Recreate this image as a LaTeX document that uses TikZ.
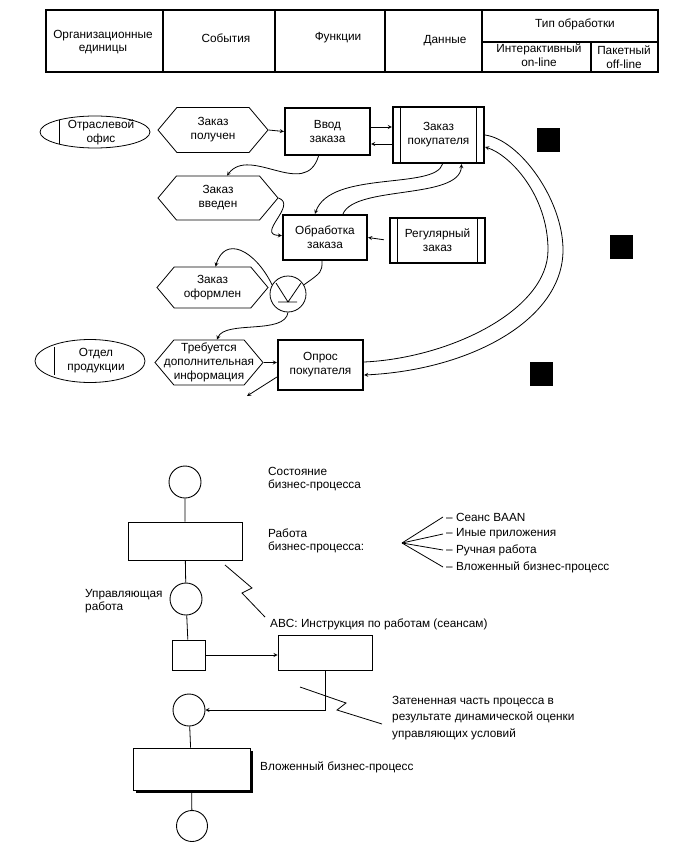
\documentclass[tikz,border=0pt]{standalone}
\usepackage{fontspec}
\setmainfont{Liberation Sans}[Ligatures={TeX,NoCommon}]
\usepackage{tikz}
\usetikzlibrary{arrows,shapes,shapes.symbols,positioning,shadows}

\begin{document}
\begin{tikzpicture}[x=1pt,y=-1pt,>=stealth,font=\fontsize{11.8}{14}\selectfont]
% STYLES
\tikzset{
    tcell/.style={align=center, font=\fontsize{11.8}{13.5}\selectfont},
    lowtxt/.style={execute at begin node={\rule{0pt}{16pt}}},
    orgell/.style={ellipse, draw, line width=0.8pt, inner sep=0pt,
    minimum width=110pt, minimum height=32pt},
    orgtxt/.style={align=center, xshift=6pt},
    hexbase/.style={signal, signal to=east and west, signal pointer angle=100, draw,
    line width=0.8pt, align=center, inner sep=0pt, minimum width=110pt, minimum height=45pt},
    hexa/.style={hexbase, lowtxt},
    funcbox/.style={rectangle, draw, line width=2.2pt, align=center, inner sep=0pt,
    minimum width=85pt, minimum height=47pt, lowtxt},
    databox/.style={funcbox, minimum width=91pt, minimum height=56pt},
    xorc/.style={circle, draw, line width=0.8pt, minimum size=36pt, inner sep=0pt},
    stat/.style={circle, draw, line width=0.9pt, minimum size=32pt, inner sep=0pt},
    work/.style={rectangle, draw, line width=0.9pt, minimum width=114pt, minimum height=38pt},
    lbl/.style={align=left, inner sep=0pt, anchor=west, font=\fontsize{11.8}{13}\selectfont},
    link/.style={line width=0.8pt}
}
\useasboundingbox (0,0) rectangle (679,853);

% table head
\draw[line width=1.8pt] (46,10) rectangle (658,72);
\foreach \x in {163,275,385,482}
  \draw[line width=1.8pt] (\x,10) -- (\x,72);
\draw[line width=1.8pt] (482,42) -- (658,42) (591,42) -- (591,72);
\node[tcell] (torg) at (103,42) {Организационные\\единицы};
\node[tcell] (tev) at (226,38) {События};
\node[tcell] (tfun) at (338,38) {Функции};
\node[tcell] (tdat) at (445,41) {Данные};
\node[tcell] (ttyp) at (575,24) {Тип обработки};
\node[tcell] (tint) at (539,55) {Интерактивный\\on-line};
\node[tcell] (tbat) at (624,57) {Пакетный\\of\kern0ptf-line};

% event chain
\node[orgell, label={[orgtxt]center:Отраслевой\\офис}] (ofis) at (95,132) {};
\node[hexa] (zpol) at (213,130) {Заказ\\получен};
\node[funcbox] (vvod) at (327.5,131.5) {Ввод\\заказа};
\node[databox] (zpok) at (438.5,135) {Заказ\\покупателя};
\node[hexa, minimum width=120pt, minimum height=44pt] (zvved) at (218,198) {Заказ\\введен};
\node[funcbox, minimum width=84pt, minimum height=45pt] (obr) at (325,237.5) {Обработка\\заказа};
\node[databox, minimum width=95pt, minimum height=45pt] (regz) at (437.5,240.5) {Регулярный\\заказ};
\node[xorc] (xor) at (288,294) {};
\node[hexa, minimum width=111pt, minimum height=41pt] (zofo) at (212.5,287.5) {Заказ\\оформлен};
\node[hexbase, minimum width=108pt, inner xsep=-16pt] (treb) at (209,362.5) {Требуется\\дополнительная\\информация};
\node[funcbox, minimum height=50pt] (opros) at (320.5,365) {Опрос\\покупателя};
\node[orgell, minimum height=43pt, label={[orgtxt]center:Отдел\\продукции}] (otdel) at (90,361) {};
\coordinate (out) at (247,396);
\coordinate (arcout) at (563,250);
\coordinate (arcin) at (548,250);

% marks inside the shapes
\foreach \n/\h in {ofis/12,otdel/14}
  \draw[link] ([xshift=20pt,yshift=\h pt]\n.west) -- ([xshift=20pt,yshift=-\h pt]\n.west);
\foreach \n in {zpok,regz}
  \draw[line width=1.4pt] ([xshift=8.5pt]\n.north west) -- ([xshift=8.5pt]\n.south west)
    ([xshift=-8.5pt]\n.north east) -- ([xshift=-8.5pt]\n.south east);
\draw[link] ([shift={(-12pt,11pt)}]xor.center) -- ([yshift=-8pt]xor.center)
  -- ([shift={(13pt,11pt)}]xor.center)
  ([shift={(-10pt,-8pt)}]xor.center) -- ([shift={(9pt,-8pt)}]xor.center);
\foreach \x/\y in {537/128,610/235,530/362}
  \fill (\x,\y) rectangle ++(23,24);

% Draw the links between
\path[->,link]
   (zpol.east) edge (vvod.west)
   (vvod.east |- 0,127) edge (zpok.west |- 0,127)
   (zpok.west |- 0,144) edge (vvod.east |- 0,144)
   (regz.west) edge[shorten <=5pt] (obr.east)
   (treb.east) edge (treb.east -| opros.west)
   ([yshift=-12pt]opros.west) edge (out);
\draw[->,link] ([xshift=-9pt]vvod.south) .. controls (305,200) and (250,145) .. ([xshift=9pt]zvved.north);
\draw[->,link] (zvved.east) .. controls (298,205) and (255,235) .. ([yshift=2pt]obr.west);
\draw[->,link] ([xshift=4pt]zpok.south) .. controls (435,190) and (330,170) .. ([xshift=-10pt]obr.north);
\draw[->,link] ([xshift=18pt]obr.north) .. controls (355,185) and (460,200) .. ([xshift=23pt]zpok.south);
\draw[link] ([xshift=-3pt]obr.south) .. controls (322,272) .. (xor.30);
\draw[->,link] (xor.150) .. controls (255,250) and (225,235) .. ([xshift=3pt]zofo.north);
\draw[->,link] (xor.south) .. controls (285,335) and (225,320) .. ([xshift=8pt]treb.north);
\draw[->,link] (zpok.east) .. controls (520,140) and (563,200) .. (arcout)
   .. controls (563,320) and (470,370) .. ([yshift=-10pt]opros.east);
\draw[->,link] ([yshift=3pt]opros.east) .. controls (450,358) and (548,310) .. (arcin)
   .. controls (548,195) and (510,155) .. ([yshift=-12pt]zpok.east);

% process model
\node[stat] (s1) at (185,482) {};
\node[work] (w1) at (185,541) {};
\node[stat] (s2) at (186,599) {};
\node[draw, line width=0.9pt, minimum width=33pt, minimum height=30pt] (ctl) at (188.5,655) {};
\node[work, minimum width=94pt, minimum height=35pt] (w2) at (325,652.5) {};
\node[stat] (s3) at (189,710) {};
\node[work, minimum width=117pt, minimum height=42pt,
  drop shadow={shadow xshift=2.5pt,shadow yshift=-2.5pt,fill=black,opacity=1}, fill=white] (w3) at (191.5,769) {};
\node[stat, minimum size=31pt] (s4) at (192,826) {};

\node[lbl] (tstat) at (268,479) {Состояние\\бизнес-процесса};
\node[lbl] (twork) at (268,541) {Работа\\бизнес-процесса:};
\node[lbl] (tctl) at (85,601) {Управляющая\\работа};
\node[lbl] (tabc) at (270,624) {ABC: Инструкция по работам (сеансам)};
\node[lbl, font=\fontsize{11.8}{16.5}\selectfont] (tshad) at (392,718) {Затененная часть процесса в\\результате динамической оценки\\управляющих условий};
\node[lbl] (tnest) at (260,767) {Вложенный бизнес-процесс};
\node[lbl] (f1) at (446,517) {– Сеанс BAAN};
\node[lbl] (f2) at (446,534) {– Иные приложения};
\node[lbl] (f3) at (446,550) {– Ручная работа};
\node[lbl] (f4) at (446,567) {– Вложенный бизнес-процесс};
\coordinate (fan) at (402,543);

\draw[link] (s1) -- (w1) (w1) -- (s2) (s2) -- (ctl) (s3) -- (w3) (w3) -- (s4);
\draw[->,link] (ctl.east) -- (ctl.east -| w2.west);
\draw[->,link] (w2.south) |- (s3.east);
\foreach \i in {1,...,4}
  \draw[link] (fan) -- ([xshift=-3pt]f\i.west);
\draw[link] (225,565) -- (252,588) -- (242,593) -- (265,617);
\draw[link] (300,687) -- (346,703) -- (337,710) -- (382,724);

\end{tikzpicture}
\end{document}
